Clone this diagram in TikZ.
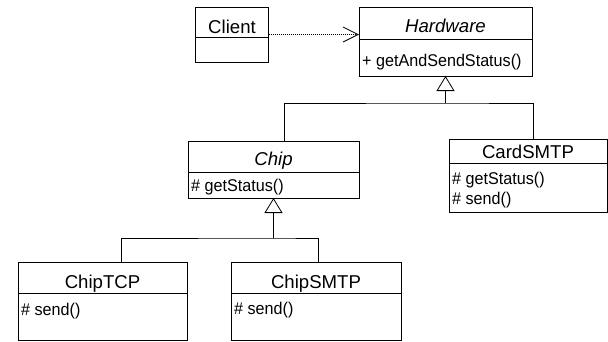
\documentclass[tikz,border=0pt]{standalone}
\usepackage{fontspec}
\setmainfont{Liberation Sans}
\newfontfamily\memfont[FakeStretch=0.95]{Liberation Sans}
\usetikzlibrary{arrows.meta}
\begin{document}
\begin{tikzpicture}[x=1pt,y=-1pt,
  box/.style={draw, line width=0.8pt, inner sep=0pt, outer sep=0pt, anchor=north west},
  ttl/.style={font=\fontsize{18.6}{20}\selectfont, anchor=base, inner sep=0pt},
  ittl/.style={ttl, font=\fontsize{18.6}{20}\selectfont\itshape},
  mem/.style={font=\memfont\fontsize{17}{18}\selectfont, anchor=base west, inner sep=0pt},
  conn/.style={line width=0.8pt},
  dep/.style={conn, dash pattern=on 1pt off 1pt, -{Straight Barb[length=15pt,width=15pt,line width=0.8pt]}},
  inh/.style={conn, -{Triangle[open,length=15pt,width=18pt,fill=white,line width=0.8pt]}}
]
\useasboundingbox (0,0) rectangle (608,341);

% Client
\node[box, minimum width=73pt, minimum height=55pt] (client) at (195.5,7) {};
\draw[conn] (client.west |- 0,37) -- (client.east |- 0,37);
\node[ttl] (clientT) at (232,33) {Client};

% Hardware
\node[box, minimum width=173pt, minimum height=69pt] (hw) at (359,7) {};
\draw[conn] (hw.west |- 0,39) -- (hw.east |- 0,39);
\node[ittl] (hwT) at (445.5,32) {Hardware};
\node[mem] (hwM) at (362,66) {+ getAndSendStatus()};

% Chip
\node[box, minimum width=171pt, minimum height=57pt] (chip) at (188,141) {};
\draw[conn] (chip.west |- 0,172) -- (chip.east |- 0,172);
\node[ittl] (chipT) at (273.5,165) {Chip};
\node[mem] (chipM) at (191,191) {\# getStatus()};

% CardSMTP
\node[box, minimum width=158pt, minimum height=73pt] (card) at (449,139) {};
\draw[conn] (card.west |- 0,163) -- (card.east |- 0,163);
\node[ttl] (cardT) at (528,158.5) {CardSMTP};
\node[mem] (cardM1) at (452,184) {\# getStatus()};
\node[mem] (cardM2) at (452,204) {\# send()};

% ChipTCP
\node[box, minimum width=169pt, minimum height=78pt] (tcp) at (18,262) {};
\draw[conn] (tcp.west |- 0,293) -- (tcp.east |- 0,293);
\node[ttl] (tcpT) at (102.5,288) {ChipTCP};
\node[mem] (tcpM) at (21,315) {\# send()};

% ChipSMTP
\node[box, minimum width=170pt, minimum height=78pt] (smtp) at (231,262) {};
\draw[conn] (smtp.west |- 0,293) -- (smtp.east |- 0,293);
\node[ttl] (smtpT) at (316,288) {ChipSMTP};
\node[mem] (smtpM) at (234,314) {\# send()};

% Dependency
\draw[dep] (client.east) -- (client.east -| hw.west);

% Inheritance: Hardware
\coordinate (j1) at (445.5,103);
\draw[inh] (j1) -- (hw.south);
\draw[conn] ([xshift=10.5pt]chip.north) |- (j1) -| ([xshift=5pt]card.north);

% Inheritance: Chip
\coordinate (j2) at (273.5,238);
\draw[inh] (j2) -- (chip.south);
\draw[conn] ([xshift=18.5pt]tcp.north) |- (j2) -| ([xshift=2pt]smtp.north);
\end{tikzpicture}
\end{document}
